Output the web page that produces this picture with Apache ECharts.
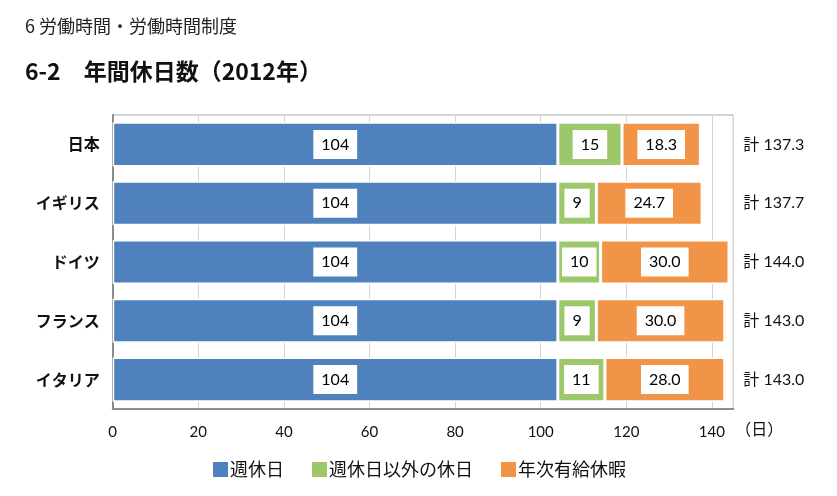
<!DOCTYPE html>
<html><head><meta charset="utf-8">
<script src="https://cdn.jsdelivr.net/npm/echarts@6/dist/echarts.min.js"></script>
<style>html,body{margin:0;padding:0;background:#fff}#c{width:837px;height:496px}</style>
</head><body><div id="c"></div>
<script>
const categories = ['日本', 'イギリス', 'ドイツ', 'フランス', 'イタリア'];
const weeklyHolidays = [104, 104, 104, 104, 104];
const otherHolidays = [15, 9, 10, 9, 11];
const paidLeave = [18.3, 24.7, 30.0, 30.0, 28.0];
const seriesNames = ['週休日', '週休日以外の休日', '年次有給休暇'];
const xTicks = [0, 20, 40, 60, 80, 100, 120, 140];

const totals = categories.map((c, i) => weeklyHolidays[i] + otherHolidays[i] + paidLeave[i]);
const catRev = categories.slice().reverse();
const rev = a => a.slice().reverse();

const chart = echarts.init(document.getElementById('c'), null, {renderer: 'canvas'});
const numFont = 'Lato, "Noto Sans CJK JP", sans-serif';
const jpFont = '"Noto Sans CJK JP", sans-serif';

const lbl = (fmt) => ({
  show: true, position: 'inside', color: '#000', fontFamily: numFont, fontSize: 16,
  backgroundColor: '#fff', padding: [6, 8, 5, 8], lineHeight: 18,
  formatter: fmt
});

chart.setOption({
  animation: false,
  backgroundColor: '#fff',
  title: [
    {text: '6 労働時間・労働時間制度', left: 20, top: 12,
     textStyle: {fontFamily: jpFont, fontSize: 18, fontWeight: 'normal', color: '#222'}},
    {text: '6-2　年間休日数（2012年）', left: 20, top: 55,
     textStyle: {fontFamily: jpFont, fontSize: 23, fontWeight: 'bold', color: '#111'}}
  ],
  legend: {
    bottom: 12, left: 'center', itemWidth: 17, itemHeight: 17, itemGap: 26, icon: 'rect',
    textStyle: {fontFamily: jpFont, fontSize: 18, color: '#111', padding: [0, 0, 0, -4]},
    data: seriesNames
  },
  grid: {left: 112.7, right: 103.7, top: 115, bottom: 87, show: true, borderColor: '#a8a8a8', borderWidth: 1},
  xAxis: {
    type: 'value', min: 0, max: 145, interval: 20,
    name: '（日）', nameLocation: 'end', nameGap: 2,
    nameTextStyle: {fontFamily: jpFont, fontSize: 16, color: '#111', verticalAlign: 'top', padding: [12, 0, 0, 0]},
    axisLine: {show: true, lineStyle: {color: '#8c8c8c', width: 2}},
    axisTick: {show: false},
    axisLabel: {color: '#111', fontFamily: numFont, fontSize: 15, margin: 16, showMaxLabel: false,
      formatter: v => xTicks.includes(v) ? String(v) : ''},
    splitLine: {show: true, lineStyle: {color: '#d4d4d4', width: 1}}
  },
  yAxis: [
    {type: 'category', data: catRev,
     axisLine: {show: true, lineStyle: {color: '#8c8c8c', width: 2}},
     axisTick: {show: false},
     axisLabel: {color: '#111', fontFamily: jpFont, fontSize: 16, fontWeight: 'bold', margin: 13}},
    {type: 'category', data: rev(totals).map(t => '計 ' + t.toFixed(1)), position: 'right',
     axisLine: {show: false}, axisTick: {show: false},
     axisLabel: {color: '#111', fontFamily: numFont, fontSize: 16, margin: 10, align: 'left'}}
  ],
  series: [
    {name: seriesNames[0], type: 'bar', stack: 'a', barWidth: '75%', data: rev(weeklyHolidays),
     itemStyle: {color: '#4F81BD', borderColor: '#fff', borderWidth: 1.5},
     label: lbl(p => String(p.value))},
    {name: seriesNames[1], type: 'bar', stack: 'a', barWidth: '75%', data: rev(otherHolidays),
     itemStyle: {color: '#9CC76A', borderColor: '#fff', borderWidth: 1.5},
     label: lbl(p => String(p.value))},
    {name: seriesNames[2], type: 'bar', stack: 'a', barWidth: '75%', data: rev(paidLeave),
     itemStyle: {color: '#F29447', borderColor: '#fff', borderWidth: 1.5},
     label: lbl(p => p.value.toFixed(1))}
  ]
});
</script></body></html>
